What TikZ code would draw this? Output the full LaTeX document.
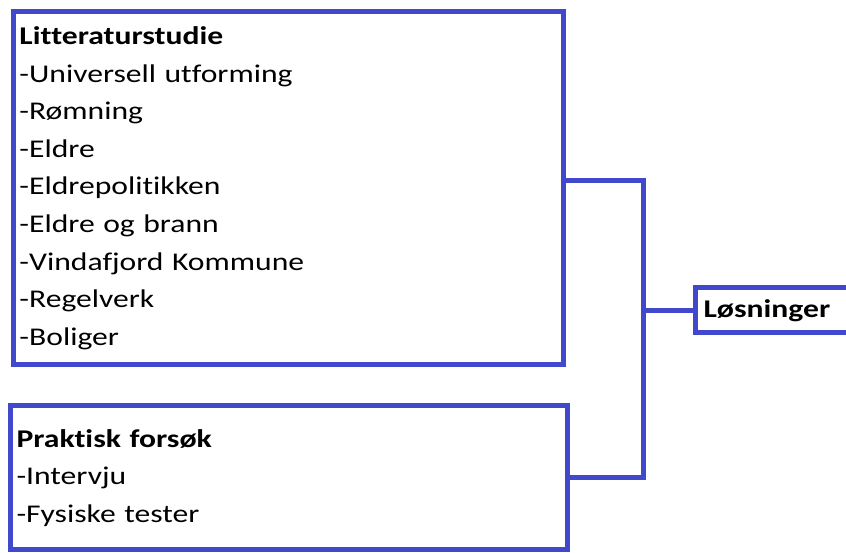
\documentclass[tikz,border=0pt]{standalone}
\usepackage{fontspec}
\setmainfont{Carlito}[FakeStretch=1.24,Ligatures=NoCommon]
\usetikzlibrary{positioning}
\definecolor{boxblue}{RGB}{66,72,204}

\begin{document}
\begin{tikzpicture}[x=1pt,y=1pt,
  box/.style={draw=boxblue,line width=5pt,rectangle,outer sep=0pt,inner xsep=6pt,inner ysep=0pt,
    align=left,font=\fontsize{25.5}{37.6}\selectfont},
  conn/.style={draw=boxblue,line width=5pt}]
\clip (0,0) rectangle (846,553);
\node[box,anchor=north west,minimum width=550,minimum height=353.5,text width=538] (lit) at (13.5,541.5)
  {\textbf{Litteraturstudie}\\-Universell utforming\\-Rømning\\-Eldre\\-Eldrepolitikken\\-Eldre og brann\\-Vindafjord Kommune\\-Regelverk\\-Boliger};
\node[box,anchor=north west,minimum width=556.5,minimum height=144,text width=544.5] (prak) at (10.5,147)
  {\textbf{Praktisk forsøk}\\-Intervju\\-Fysiske tester};
\node[box,anchor=west,minimum height=45,inner xsep=8pt,text width=200] (los) at (695.5,242.5) {\textbf{Løsninger}};
\coordinate (junc) at (643,372);
\draw[conn] (lit.east |- junc) -- (junc) |- (prak.east);
\draw[conn] (junc |- los.west) -- (los.west);
\end{tikzpicture}
\end{document}
